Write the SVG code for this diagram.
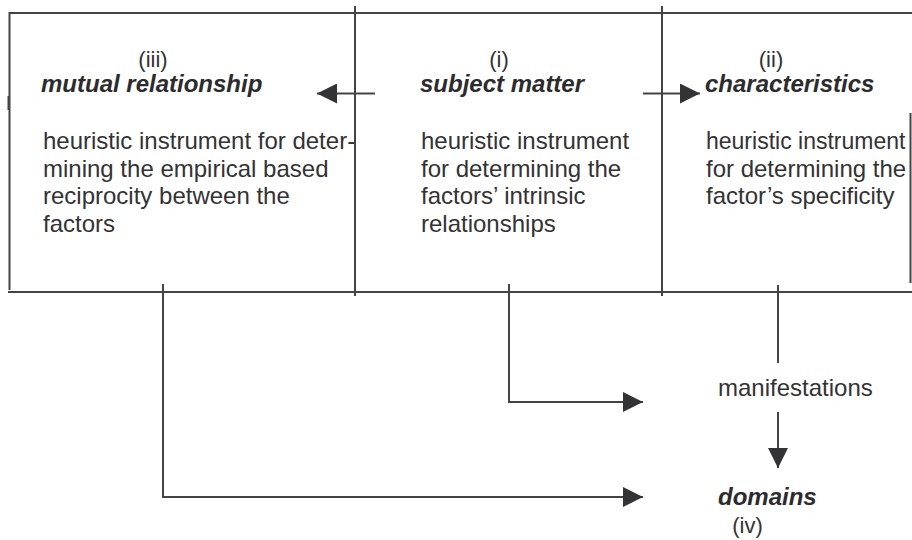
<svg xmlns="http://www.w3.org/2000/svg" width="912" height="540" viewBox="0 0 912 540">
  <defs>
    <marker id="head" markerUnits="userSpaceOnUse" markerWidth="20" markerHeight="20" viewBox="0 0 20 20" refX="20" refY="10" orient="auto">
      <path d="M0,0 L20,10 L0,20 Z" fill="#333336"/>
    </marker>
    <style>
      .rule { stroke: #444446; stroke-width: 2; fill: none; }
      .link { stroke: #444446; stroke-width: 2; fill: none; }
      .arrow { marker-end: url(#head); }
      text { font-family: "Liberation Sans", Arial, sans-serif; fill: #333335; }
      .title { font-size: 24px; font-weight: bold; font-style: italic; fill: #2c2c2e; }
      .body { font-size: 24px; }
      .tight { font-size: 23px; }
      .num { font-size: 22px; text-anchor: middle; }
    </style>
  </defs>

  <!-- outer frame of the three-column table -->
  <g id="frame">
    <line class="rule" x1="9.5" y1="13" x2="912" y2="13"/>
    <line class="rule" x1="8" y1="292" x2="912" y2="292"/>
    <line class="rule" x1="9.5" y1="12" x2="9.5" y2="290"/>
    <line x1="8.5" y1="96" x2="8.5" y2="110" stroke="#444446" stroke-width="2"/>
    <line class="rule" x1="355" y1="6" x2="355" y2="296"/>
    <line class="rule" x1="662" y1="6" x2="662" y2="296"/>
    <line class="rule" x1="910.5" y1="113" x2="910.5" y2="283"/>
  </g>

  <!-- column (iii) -->
  <g id="node-mutual-relationship">
    <text class="num" x="153" y="67">(iii)</text>
    <text class="title" x="41" y="92">mutual relationship</text>
    <text class="body" x="43" y="149">heuristic instrument for deter-</text>
    <text class="body" x="43" y="176.6">mining the empirical based</text>
    <text class="body" x="43" y="204.2">reciprocity between the</text>
    <text class="body" x="43" y="231.8">factors</text>
  </g>

  <!-- column (i) -->
  <g id="node-subject-matter">
    <text class="num" x="499" y="67">(i)</text>
    <text class="title" x="420" y="92">subject matter</text>
    <text class="body" x="421" y="149">heuristic instrument</text>
    <text class="body" x="421" y="176.6">for determining the</text>
    <text class="body" x="421" y="204.2">factors’ intrinsic</text>
    <text class="body" x="421" y="231.8">relationships</text>
  </g>

  <!-- column (ii) -->
  <g id="node-characteristics">
    <text class="num" x="771" y="67">(ii)</text>
    <text class="title" x="705" y="92">characteristics</text>
    <text class="body tight" x="706" y="149">heuristic instrument</text>
    <text class="body" x="706" y="176.6">for determining the</text>
    <text class="body" x="706" y="204.2">factor’s specificity</text>
  </g>

  <g id="node-manifestations">
    <text class="body" x="718" y="396">manifestations</text>
  </g>

  <g id="node-domains">
    <text class="title" x="718" y="505">domains</text>
    <text class="num" x="747.5" y="533">(iv)</text>
  </g>

  <!-- connectors -->
  <g id="connectors">
    <line class="link arrow" x1="375" y1="93.5" x2="317" y2="93.5"/>
    <line class="link arrow" x1="643" y1="93.5" x2="700" y2="93.5"/>
    <path class="link arrow" d="M509,284 V402 H643"/>
    <path class="link arrow" d="M163,284 V497 H643"/>
    <line class="link" x1="778" y1="285" x2="778" y2="363"/>
    <line class="link arrow" x1="778" y1="412" x2="778" y2="468"/>
  </g>
</svg>
